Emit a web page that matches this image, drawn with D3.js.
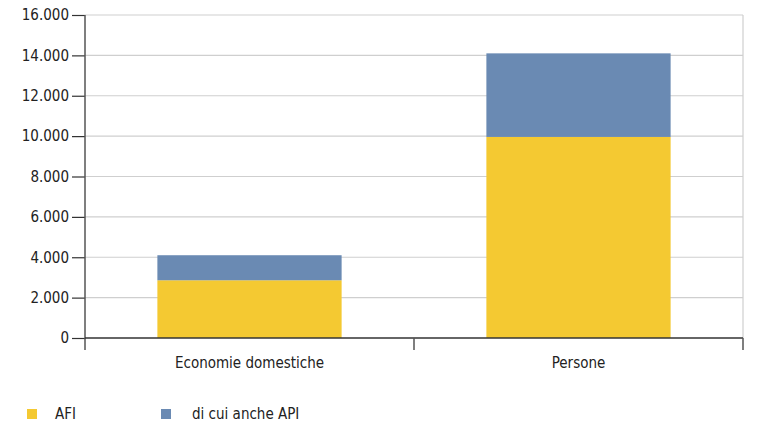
<!DOCTYPE html>
<html><head><meta charset="utf-8">
<script src="https://cdn.jsdelivr.net/npm/d3@7/dist/d3.min.js"></script>
<style>
body{margin:0;background:#fff;}
text{font-family:"Liberation Sans Narrow","DejaVu Sans Condensed",sans-serif;fill:#222;}
</style></head>
<body><svg id="c" width="765" height="423"></svg>
<script>
const categories = ["Economie domestiche", "Persone"];
const afi = [2860, 9960];
const diCuiApi = [1240, 4140];
const seriesNames = ["AFI", "di cui anche API"];
const yTicks = [0, 2000, 4000, 6000, 8000, 10000, 12000, 14000, 16000];
const colors = ["#F4C932", "#6A8AB3"];

const svg = d3.select("#c");
const L = 85, R = 743, T = 15, B = 338;
const x = d3.scaleBand().domain(categories).range([L, R]).padding(0);
const y = d3.scaleLinear().domain([0, 16000]).range([B, T]);
const fmt = d3.formatLocale({decimal: ",", thousands: ".", grouping: [3]}).format(",");

// gridlines
svg.append("g").selectAll("line").data(yTicks.filter(d => d > 0)).join("line")
  .attr("x1", L).attr("x2", R).attr("y1", d => y(d)).attr("y2", d => y(d))
  .attr("stroke", "#cfcfcf").attr("stroke-width", 1.2);
// right border
svg.append("line").attr("x1", R).attr("x2", R).attr("y1", T).attr("y2", B)
  .attr("stroke", "#cfcfcf").attr("stroke-width", 1.2);

// stacked bars
const data = categories.map((c, i) => ({cat: c, AFI: afi[i], "di cui anche API": diCuiApi[i]}));
const stack = d3.stack().keys(seriesNames)(data);
const bw = x.bandwidth();
svg.append("g").selectAll("g").data(stack).join("g")
  .attr("fill", (d, i) => colors[i])
  .selectAll("rect").data(d => d).join("rect")
  .attr("x", d => x(d.data.cat) + bw * 0.22)
  .attr("width", bw * 0.56)
  .attr("y", d => y(d[1]))
  .attr("height", d => y(d[0]) - y(d[1]));

// y axis
const yAxis = d3.axisLeft(y).tickValues(yTicks).tickFormat(fmt).tickSize(13).tickPadding(3);
const gy = svg.append("g").attr("transform", `translate(${L},0)`).call(yAxis);
gy.select(".domain").remove();
gy.selectAll(".tick line").attr("stroke", "#333").attr("stroke-width", 1.2);
gy.selectAll(".tick text").style("font-size", "15px").attr("fill", "#222")
  .style("font-family", '"Liberation Sans Narrow","DejaVu Sans Condensed",sans-serif');
svg.append("line").attr("x1", L).attr("x2", L).attr("y1", T).attr("y2", 350)
  .attr("stroke", "#555").attr("stroke-width", 1.5);

// x axis
svg.append("line").attr("x1", L).attr("x2", R).attr("y1", B).attr("y2", B)
  .attr("stroke", "#333").attr("stroke-width", 1.5);
const bounds = categories.map(c => x(c)).concat([x(categories[categories.length - 1]) + bw]);
svg.append("g").selectAll("line").data(bounds.slice(1)).join("line")
  .attr("x1", d => d).attr("x2", d => d).attr("y1", B).attr("y2", 350)
  .attr("stroke", "#555").attr("stroke-width", 1.5);
svg.append("g").selectAll("text").data(categories).join("text")
  .attr("x", d => x(d) + bw / 2).attr("y", 368)
  .attr("text-anchor", "middle").style("font-size", "15px").text(d => d);

// legend
const legX = [27, 161];
const lg = svg.append("g").selectAll("g").data(seriesNames).join("g")
  .attr("transform", (d, i) => `translate(${legX[i]},409)`);
lg.append("rect").attr("width", 10).attr("height", 10).attr("fill", (d, i) => colors[i]);
lg.append("text").attr("x", (d, i) => i === 0 ? 28 : 31).attr("y", 10).style("font-size", "15px").text(d => d);
</script></body></html>
